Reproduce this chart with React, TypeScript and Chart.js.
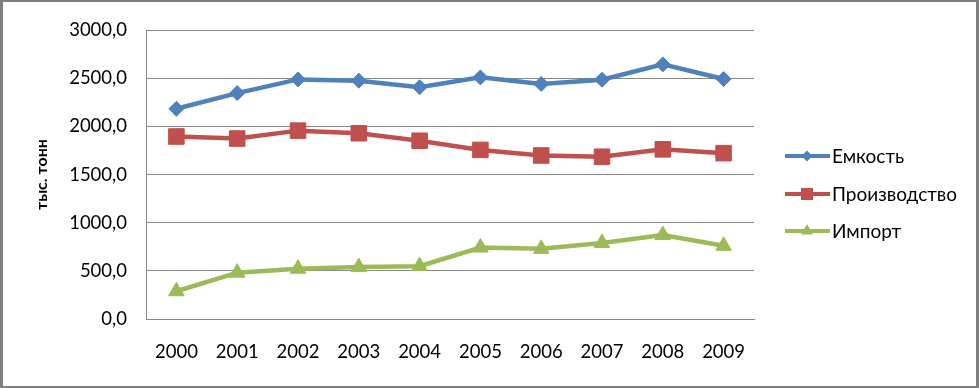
import React, { useEffect, useRef } from "react";
import { Chart, registerables } from "chart.js";

Chart.register(...registerables);

const years = ["2000", "2001", "2002", "2003", "2004", "2005", "2006", "2007", "2008", "2009"];
const emkost = [2183, 2346, 2488, 2475, 2407, 2509, 2441, 2485, 2644, 2492];
const proizvodstvo = [1895, 1874, 1956, 1929, 1851, 1756, 1698, 1685, 1762, 1722];
const importVals = [288, 481, 522, 539, 549, 742, 729, 790, 872, 760];
const seriesNames = ["Емкость", "Производство", "Импорт"];
const yTitle = "тыс. тонн";

const FONT = "Lato, 'Open Sans', sans-serif";
const GRID = "#868686";

const legendPlugin = {
  id: "customLegend",
  afterDraw(chart: any) {
    const ctx = chart.ctx;
    const ys = [156, 194, 231];
    chart.data.datasets.forEach((ds: any, i: number) => {
      const y = ys[i];
      ctx.save();
      ctx.strokeStyle = ds.borderColor;
      ctx.lineWidth = 4;
      ctx.beginPath();
      ctx.moveTo(785, y);
      ctx.lineTo(830, y);
      ctx.stroke();
      ctx.fillStyle = ds.borderColor;
      const cx = 807;
      ctx.beginPath();
      if (ds.pointStyle === "rectRot") {
        const r = 5.5;
        ctx.moveTo(cx, y - r);
        ctx.lineTo(cx + r, y);
        ctx.lineTo(cx, y + r);
        ctx.lineTo(cx - r, y);
        ctx.closePath();
      } else if (ds.pointStyle === "rect") {
        const s = 6;
        ctx.rect(cx - s, y - s, 2 * s, 2 * s);
      } else {
        const r = 7;
        ctx.moveTo(cx, y - r);
        ctx.lineTo(cx + r * 0.866, y + r * 0.5);
        ctx.lineTo(cx - r * 0.866, y + r * 0.5);
        ctx.closePath();
      }
      ctx.fill();
      ctx.fillStyle = "#000";
      ctx.font = `19px ${FONT}`;
      ctx.textBaseline = "middle";
      ctx.textAlign = "left";
      ctx.fillText(ds.label, 832, y + 1);
      ctx.restore();
    });
  },
};

export default function App() {
  const ref = useRef<HTMLCanvasElement | null>(null);
  useEffect(() => {
    if (!ref.current) return;
    const chart = new Chart(ref.current, {
      type: "line",
      data: {
        labels: years,
        datasets: [
          {
            label: seriesNames[0],
            data: emkost,
            borderColor: "#4F81BD",
            backgroundColor: "#4F81BD",
            borderWidth: 4.5,
            pointStyle: "rectRot",
            pointRadius: 7.5,
            pointBorderWidth: 1,
            tension: 0,
          },
          {
            label: seriesNames[1],
            data: proizvodstvo,
            borderColor: "#C0504D",
            backgroundColor: "#C0504D",
            borderWidth: 4.5,
            pointStyle: "rect",
            pointRadius: 11,
            pointBorderWidth: 1,
            tension: 0,
          },
          {
            label: seriesNames[2],
            data: importVals,
            borderColor: "#9BBB59",
            backgroundColor: "#9BBB59",
            borderWidth: 4.5,
            pointStyle: "triangle",
            pointRadius: 9,
            pointBorderWidth: 1,
            tension: 0,
          },
        ],
      },
      options: {
        animation: false,
        responsive: false,
        maintainAspectRatio: false,
        layout: { padding: { left: 0, right: 225, top: 24, bottom: 0 } },
        plugins: { legend: { display: false }, tooltip: { enabled: false } },
        scales: {
          x: {
            offset: true,
            grid: { display: false, drawTicks: false, tickLength: 0 },
            border: { display: true, color: GRID, width: 1 },
            ticks: { color: "#000", font: { family: FONT, size: 18.5 }, padding: 22, maxRotation: 0 },
            afterFit(scale: any) {
              scale.height = 69;
            },
          },
          y: {
            min: 0,
            max: 3000,
            grid: { color: GRID, drawTicks: false, tickLength: 0 },
            border: { display: true, color: GRID, width: 1 },
            ticks: {
              stepSize: 500,
              color: "#000",
              font: { family: FONT, size: 18.5 },
              padding: 19,
              callback: (v: any) => Number(v).toFixed(1).replace(".", ","),
            },
            title: {
              display: true,
              text: yTitle,
              color: "#000",
              font: { family: FONT, size: 16, weight: "bold" },
              padding: { top: 32, bottom: 0 },
            },
            afterFit(scale: any) {
              scale.width = 146;
            },
          },
        },
      },
      plugins: [legendPlugin],
    } as any);
    return () => chart.destroy();
  }, []);
  return (
    <div style={{ position: "fixed", left: 0, top: 0, width: 979, height: 388, background: "#fff" }}>
      <canvas ref={ref} width={979} height={388} style={{ display: "block", width: 979, height: 388 }} />
      <div
        style={{
          position: "absolute",
          left: 0,
          top: 0,
          width: 979,
          height: 388,
          boxSizing: "border-box",
          borderStyle: "solid",
          borderColor: "#7f7f7f",
          borderWidth: "2px 3px 2px 3px",
          pointerEvents: "none",
        }}
      />
    </div>
  );
}
